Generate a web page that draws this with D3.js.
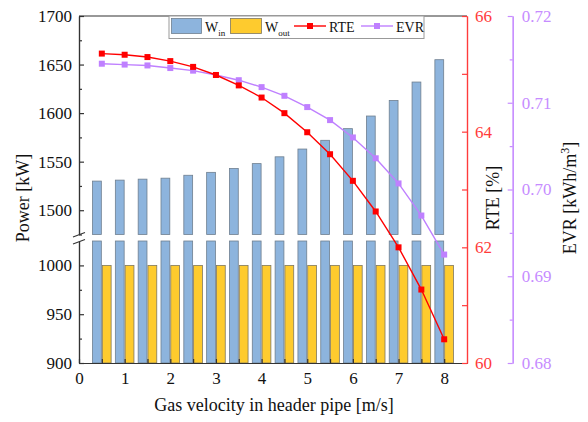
<!DOCTYPE html>
<html>
<head>
<meta charset="utf-8">
<script src="https://cdn.jsdelivr.net/npm/d3@7/dist/d3.min.js"></script>
<style>
  body { margin: 0; background: #fff; }
  svg text { font-family: "Liberation Serif", "Times New Roman", serif; }
</style>
</head>
<body>
<div id="chart"></div>
<script>
// gas velocity in header pipe [m/s]
var velocity = [0.5, 1, 1.5, 2, 2.5, 3, 3.5, 4, 4.5, 5, 5.5, 6, 6.5, 7, 7.5, 8];
// power [kW]
var wIn = [1530, 1531, 1532, 1533, 1536, 1539, 1543, 1548, 1555, 1563, 1572, 1584, 1597, 1613, 1632, 1655];
var wOut = [1000, 1000, 1000, 1000, 1000, 1000, 1000, 1000, 1000, 1000, 1000, 1000, 1000, 1000, 1000, 1000];
// round trip efficiency [%]
var rte = [65.35, 65.33, 65.29, 65.22, 65.12, 64.98, 64.80, 64.59, 64.32, 63.99, 63.61, 63.15, 62.62, 62.0, 61.27, 60.41];
// energy to volume ratio [kWh/m3]
var evr = [0.7145, 0.7144, 0.7143, 0.7140, 0.7137, 0.7132, 0.7126, 0.7118, 0.7108, 0.7095, 0.7080, 0.7060, 0.7036, 0.7007, 0.6970, 0.6925];

var xTicks = [0, 1, 2, 3, 4, 5, 6, 7, 8];
var powerTicksUp = [1500, 1550, 1600, 1650, 1700];
var powerTicksLow = [900, 950, 1000];
var rteTicks = [60, 62, 64, 66];
var evrTicks = [0.68, 0.69, 0.70, 0.71, 0.72];

var width = 588, height = 422;
var plotLeft = 79, plotRight = 467, plotTop = 16, plotBottom = 363;
var breakTop = 234.5, breakBottom = 241;
var evrAxisX = 512.7;
var serif = '"Liberation Serif", "Times New Roman", serif';

var data = velocity.map(function(v, i) {
    return { v: v, win: wIn[i], wout: wOut[i], rte: rte[i], evr: evr[i] };
});

var x = d3.scaleLinear().domain([0, 8.5]).range([plotLeft, plotRight]);
var yUp = d3.scaleLinear().domain([1475, 1700]).range([breakTop, plotTop]);
var yLow = d3.scaleLinear().domain([900, 1025]).range([plotBottom, breakBottom]);
var yRte = d3.scaleLinear().domain([60, 66]).range([plotBottom, plotTop]);
var yEvr = d3.scaleLinear().domain([0.68, 0.72]).range([plotBottom, plotTop]);

var xBar = d3.scaleBand()
    .domain(["win", "wout"])
    .range([-9.3, 9.3])
    .paddingInner(0.1);

var colors = { win: "#8db4dd", wout: "#fecb2e", rte: "#ff0000", evr: "#bf80ff" };

var svg = d3.select("#chart").append("svg")
    .attr("width", width)
    .attr("height", height)
    .style("font-family", serif);

// Win bars, split in two pieces at the axis break
var bars = svg.append("g");
bars.selectAll(".winUp")
    .data(data)
    .enter().append("rect")
    .attr("x", function(d) { return x(d.v) + xBar("win"); })
    .attr("y", function(d) { return yUp(d.win); })
    .attr("width", xBar.bandwidth())
    .attr("height", function(d) { return yUp(1475) - yUp(d.win); })
    .attr("fill", colors.win)
    .attr("stroke", "#6f7f8f")
    .attr("stroke-width", 0.8);

bars.selectAll(".winLow")
    .data(data)
    .enter().append("rect")
    .attr("x", function(d) { return x(d.v) + xBar("win"); })
    .attr("y", yLow(1025))
    .attr("width", xBar.bandwidth())
    .attr("height", yLow(900) - yLow(1025))
    .attr("fill", colors.win)
    .attr("stroke", "#6f7f8f")
    .attr("stroke-width", 0.8);

bars.selectAll(".wout")
    .data(data)
    .enter().append("rect")
    .attr("x", function(d) { return x(d.v) + xBar("wout"); })
    .attr("y", function(d) { return yLow(d.wout); })
    .attr("width", xBar.bandwidth())
    .attr("height", function(d) { return yLow(900) - yLow(d.wout); })
    .attr("fill", colors.wout)
    .attr("stroke", "#7f7860")
    .attr("stroke-width", 0.8);

// frame top
svg.append("line")
    .attr("x1", plotLeft).attr("x2", plotRight)
    .attr("y1", plotTop).attr("y2", plotTop)
    .attr("stroke", "#333").attr("stroke-width", 1.2);

function styleAxis(g, color) {
    g.attr("font-family", null).style("font-family", serif);
    g.select(".domain").attr("stroke", color).attr("stroke-width", 1.2);
    g.selectAll(".tick line").attr("stroke", color).attr("stroke-width", 1.2);
    g.selectAll(".tick text")
        .attr("fill", color)
        .style("font-family", serif)
        .style("font-size", "17px");
}

function minorAxis(axis, ticks, size) {
    return axis.tickValues(ticks).tickSize(size).tickSizeOuter(0).tickFormat("");
}

// x axis
var xMinor = d3.range(0.5, 8.5, 1);
svg.append("g")
    .attr("transform", "translate(0," + plotBottom + ")")
    .call(minorAxis(d3.axisBottom(x), xMinor, -4))
    .call(function(g) { styleAxis(g, "#333"); });
svg.append("g")
    .attr("transform", "translate(0," + plotBottom + ")")
    .call(d3.axisBottom(x).tickValues(xTicks).tickSize(-4).tickSizeOuter(0).tickPadding(9).tickFormat(d3.format("d")))
    .call(function(g) { styleAxis(g, "#333"); g.selectAll(".tick text").attr("fill", "#111"); });

// left axis, upper and lower parts
svg.append("g")
    .attr("transform", "translate(" + plotLeft + ",0)")
    .call(minorAxis(d3.axisLeft(yUp), [1475, 1525, 1575, 1625, 1675], -3))
    .call(function(g) { styleAxis(g, "#333"); });
svg.append("g")
    .attr("transform", "translate(" + plotLeft + ",0)")
    .call(d3.axisLeft(yUp).tickValues(powerTicksUp).tickSize(-5).tickSizeOuter(0).tickPadding(7).tickFormat(d3.format("d")))
    .call(function(g) { styleAxis(g, "#333"); g.selectAll(".tick text").attr("fill", "#111"); });
svg.append("g")
    .attr("transform", "translate(" + plotLeft + ",0)")
    .call(minorAxis(d3.axisLeft(yLow), [925, 975], -3))
    .call(function(g) { styleAxis(g, "#333"); });
svg.append("g")
    .attr("transform", "translate(" + plotLeft + ",0)")
    .call(d3.axisLeft(yLow).tickValues(powerTicksLow).tickSize(-5).tickSizeOuter(0).tickPadding(7).tickFormat(d3.format("d")))
    .call(function(g) { styleAxis(g, "#333"); g.selectAll(".tick text").attr("fill", "#111"); });

// break marks
var brk = svg.append("g").attr("stroke", "#333").attr("stroke-width", 1.1);
brk.append("line").attr("x1", plotLeft - 6).attr("y1", breakTop + 2.5).attr("x2", plotLeft + 6).attr("y2", breakTop - 2);
brk.append("line").attr("x1", plotLeft - 6).attr("y1", breakBottom + 3).attr("x2", plotLeft + 6).attr("y2", breakBottom - 1.5);

// RTE axis
svg.append("g")
    .attr("transform", "translate(" + plotRight + ",0)")
    .call(minorAxis(d3.axisRight(yRte), [61, 63, 65], -5))
    .call(function(g) { styleAxis(g, "#ff3b3b"); });
svg.append("g")
    .attr("transform", "translate(" + plotRight + ",0)")
    .call(d3.axisRight(yRte).tickValues(rteTicks).tickSize(-5).tickSizeOuter(0).tickPadding(8).tickFormat(d3.format("d")))
    .call(function(g) { styleAxis(g, "#ff3b3b"); });

// EVR axis
svg.append("g")
    .attr("transform", "translate(" + evrAxisX + ",0)")
    .call(minorAxis(d3.axisRight(yEvr), [0.685, 0.695, 0.705, 0.715], -3))
    .call(function(g) { styleAxis(g, "#c68cff"); });
svg.append("g")
    .attr("transform", "translate(" + evrAxisX + ",0)")
    .call(d3.axisRight(yEvr).tickValues(evrTicks).tickSize(-5).tickSizeOuter(0).tickPadding(9).tickFormat(d3.format(".2f")))
    .call(function(g) { styleAxis(g, "#c68cff"); });

// lines
var rteLine = d3.line()
    .x(function(d) { return x(d.v); })
    .y(function(d) { return yRte(d.rte); });
var evrLine = d3.line()
    .x(function(d) { return x(d.v); })
    .y(function(d) { return yEvr(d.evr); });

svg.append("path")
    .datum(data)
    .attr("fill", "none")
    .attr("stroke", colors.evr)
    .attr("stroke-width", 1.4)
    .attr("d", evrLine);

svg.selectAll(".evrDot")
    .data(data)
    .enter().append("rect")
    .attr("x", function(d) { return x(d.v) - 3; })
    .attr("y", function(d) { return yEvr(d.evr) - 3; })
    .attr("width", 6)
    .attr("height", 6)
    .attr("fill", colors.evr);

svg.append("path")
    .datum(data)
    .attr("fill", "none")
    .attr("stroke", colors.rte)
    .attr("stroke-width", 1.4)
    .attr("d", rteLine);

svg.selectAll(".rteDot")
    .data(data)
    .enter().append("rect")
    .attr("x", function(d) { return x(d.v) - 3; })
    .attr("y", function(d) { return yRte(d.rte) - 3; })
    .attr("width", 6)
    .attr("height", 6)
    .attr("fill", colors.rte);

// axis titles
svg.append("text")
    .attr("x", (plotLeft + plotRight) / 2 + 1)
    .attr("y", 411)
    .attr("text-anchor", "middle")
    .style("font-size", "18px")
    .attr("fill", "#111")
    .text("Gas velocity in header pipe [m/s]");

svg.append("text")
    .attr("transform", "translate(29,198) rotate(-90)")
    .attr("text-anchor", "middle")
    .style("font-size", "18px")
    .attr("fill", "#111")
    .text("Power [kW]");

svg.append("text")
    .attr("transform", "translate(499,198) rotate(-90)")
    .attr("text-anchor", "middle")
    .style("font-size", "18px")
    .attr("fill", "#111")
    .text("RTE [%]");

var evrTitle = svg.append("text")
    .attr("transform", "translate(576,198) rotate(-90)")
    .attr("text-anchor", "middle")
    .style("font-size", "18px")
    .attr("fill", "#111");
evrTitle.append("tspan").text("EVR [kWh/m");
evrTitle.append("tspan").attr("baseline-shift", "super").style("font-size", "12px").text("3");
evrTitle.append("tspan").text("]");

// legend
var legend = svg.append("g");
legend.append("rect")
    .attr("x", 169).attr("y", 16)
    .attr("width", 255).attr("height", 22.5)
    .attr("fill", "#fff")
    .attr("stroke", "#999")
    .attr("stroke-width", 1);

legend.append("rect")
    .attr("x", 171.5).attr("y", 18.5).attr("width", 30).attr("height", 15)
    .attr("fill", colors.win).attr("stroke", "#6f7f8f").attr("stroke-width", 0.8);
var tIn = legend.append("text").attr("x", 205).attr("y", 31.5).style("font-size", "14px").attr("fill", "#111");
tIn.append("tspan").text("W");
tIn.append("tspan").attr("dy", 4).style("font-size", "9px").text("in");

legend.append("rect")
    .attr("x", 230.5).attr("y", 18.5).attr("width", 31).attr("height", 15)
    .attr("fill", colors.wout).attr("stroke", "#7f7860").attr("stroke-width", 0.8);
var tOut = legend.append("text").attr("x", 265).attr("y", 31.5).style("font-size", "14px").attr("fill", "#111");
tOut.append("tspan").text("W");
tOut.append("tspan").attr("dy", 4).style("font-size", "9px").text("out");

legend.append("line")
    .attr("x1", 294).attr("x2", 326).attr("y1", 26).attr("y2", 26)
    .attr("stroke", colors.rte).attr("stroke-width", 1.4);
legend.append("rect")
    .attr("x", 307).attr("y", 23).attr("width", 6).attr("height", 6)
    .attr("fill", colors.rte);
legend.append("text").attr("x", 329).attr("y", 31.5).style("font-size", "14px").attr("fill", "#111").text("RTE");

legend.append("line")
    .attr("x1", 361).attr("x2", 393).attr("y1", 26).attr("y2", 26)
    .attr("stroke", colors.evr).attr("stroke-width", 1.4);
legend.append("rect")
    .attr("x", 374).attr("y", 23).attr("width", 6).attr("height", 6)
    .attr("fill", colors.evr);
legend.append("text").attr("x", 396).attr("y", 31.5).style("font-size", "14px").attr("fill", "#111").text("EVR");
</script>
</body>
</html>
